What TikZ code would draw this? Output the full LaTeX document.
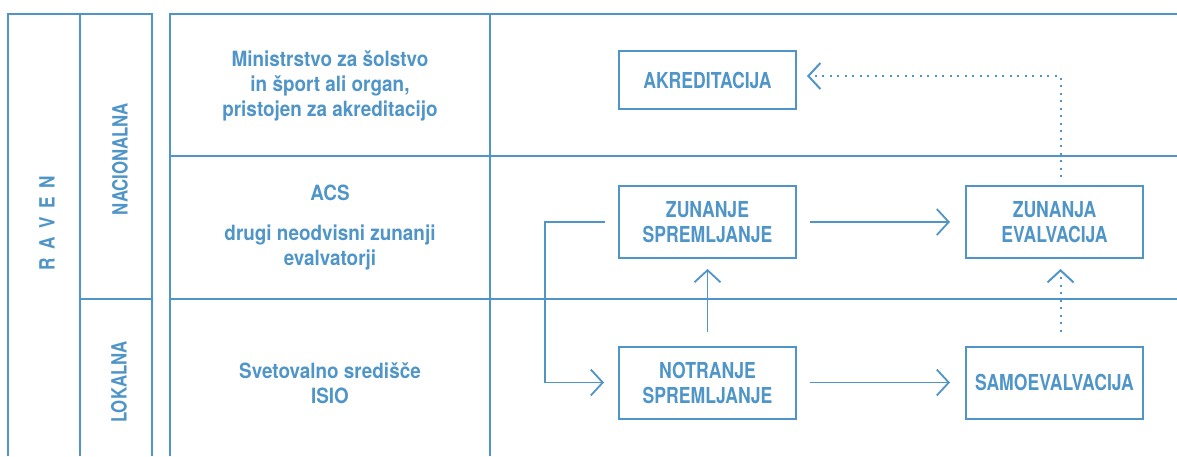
\documentclass[tikz,border=0pt]{standalone}
\usepackage{fontspec}
\setmainfont{TeX Gyre Heros}
\newfontfamily\bodyfont{TeX Gyre Heros}[FakeStretch=0.9]
\newfontfamily\condfont{TeX Gyre Heros}[FakeStretch=0.8]
\newfontfamily\ravenfont{TeX Gyre Heros}[FakeStretch=0.82,WordSpace=1.8]
\usetikzlibrary{arrows.meta}
\definecolor{ravenblue}{RGB}{79,149,199}

\begin{document}
\begin{tikzpicture}[x=1pt,y=-1pt,
  rule/.style={draw=ravenblue, line width=2pt},
  body/.style={text=ravenblue, align=center, font=\bodyfont\bfseries\fontsize{21}{25}\selectfont},
  level/.style={text=ravenblue, rotate=90, font=\condfont\bfseries\fontsize{21}{25}\selectfont},
  stage/.style={draw=ravenblue, line width=2pt, text=ravenblue, align=center,
    minimum width=177pt, font=\condfont\bfseries\fontsize{22}{25}\selectfont},
  flow/.style={draw=ravenblue, line width=1.8pt, -{Straight Barb[length=12pt,width=26pt]}},
  dots/.style={line width=2pt, dash pattern=on 2pt off 5.5pt}]
\useasboundingbox (0,0) rectangle (1177,456);
% frame of the levels
\draw[rule] (8,456) -- (8,14) -- (152,14) -- (152,456);
\draw[rule] (80,14) -- (80,456);
\draw[rule] (80,299) -- (152,299);
% table
\draw[rule] (170,456) -- (170,14) -- (1177,14);
\draw[rule] (490,14) -- (490,456);
\foreach \y in {156,299}
  \draw[rule] (170,\y) -- (1177,\y);

\node[level, font=\ravenfont\bfseries\fontsize{21}{25}\selectfont] (raven) at (47,223) {R A V E N};
\node[level] (nac) at (120,159) {NACIONALNA};
\node[level] (lok) at (119,382) {LOKALNA};

\node[body] (min) at (330,86) {Ministrstvo za šolstvo\\in šport ali organ,\\pristojen za akreditacijo};
\node[body] (acs) at (330,228) {ACS\\[15pt]drugi neodvisni zunanji\\evalvatorji};
\node[body] (isio) at (330,383) {Svetovalno središče\\ISIO};

\node[stage, minimum height=58pt] (ak) at (707.5,80) {AKREDITACIJA};
\node[stage, minimum height=72pt] (zs) at (707.5,222) {ZUNANJE\\SPREMLJANJE};
\node[stage, minimum height=72pt] (ze) at (1054.5,222) {ZUNANJA\\EVALVACIJA};
\node[stage, minimum height=72pt] (ns) at (707.5,382.5) {NOTRANJE\\SPREMLJANJE};
\node[stage, minimum height=72pt] (sa) at (1054.5,382.5) {SAMOEVALVACIJA};

\draw[flow, shorten <=13pt, shorten >=15pt] (zs.east) -- (ze.west);
\draw[flow, shorten <=13pt, shorten >=15pt] (ns.east) -- (sa.west);
\draw[flow, shorten <=14pt, shorten >=10pt] (ns.north) -- (zs.south);
\draw[flow, dots, shorten <=14pt, shorten >=10pt] ([xshift=6pt]sa.north) -- ([xshift=6pt]ze.south);
\draw[flow, dots, shorten <=8pt, shorten >=10pt] ([xshift=6pt]ze.north) |- ([yshift=4pt]ak.east);
% loop from the external to the internal monitoring
\coordinate (bend) at (545,0);
\draw[flow, shorten <=13pt, shorten >=14pt] (zs.west) -- (zs.west -| bend) |- (ns.west);
\end{tikzpicture}
\end{document}
